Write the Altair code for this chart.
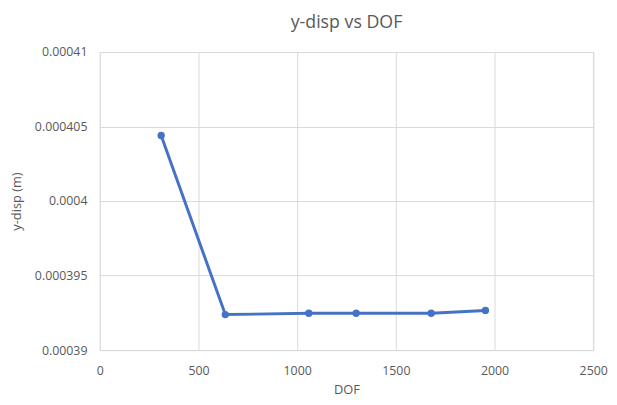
import altair as alt
import pandas as pd

dof = [311, 636, 1059, 1299, 1679, 1954]
ydisp = [0.0004044, 0.00039238, 0.00039247, 0.00039247, 0.00039247, 0.00039266]
x_ticks = [0, 500, 1000, 1500, 2000, 2500]
y_ticks = [0.00039, 0.000395, 0.0004, 0.000405, 0.00041]

df = pd.DataFrame({"DOF": dof, "ydisp": ydisp})

FONT = "Open Sans"
TXT = "#595959"
GRID = "#d9d9d9"
BLUE = "#4472C4"

x = alt.X("DOF:Q", title="DOF",
          scale=alt.Scale(domain=[0, 2500], nice=False, zero=False),
          axis=alt.Axis(values=x_ticks, format="d", grid=True, gridColor=GRID, domainColor=GRID,
                        ticks=False, labelPadding=15, labelFontSize=12.5, labelColor=TXT,
                        labelFont=FONT, titleFont=FONT, titleFontSize=13, titleColor=TXT,
                        titleFontWeight="normal", titleY=40, titleBaseline="middle",
                        labelOverlap=False, labelFlush=False))
y = alt.Y("ydisp:Q", title="y-disp (m)",
          scale=alt.Scale(domain=[0.00039, 0.00041], nice=False, zero=False),
          axis=alt.Axis(values=y_ticks, format="~g", grid=True, gridColor=GRID,
                        domain=False, ticks=False, labelPadding=13, labelFontSize=12.5,
                        labelColor=TXT, labelFont=FONT, titleFont=FONT, titleFontSize=13,
                        titleColor=TXT, titleFontWeight="normal", titleX=-84,
                        titleBaseline="middle", labelOverlap=False))

base = alt.Chart(df).encode(x=x, y=y)
line = base.mark_line(color=BLUE, strokeWidth=3)
pts = base.mark_point(filled=True, color=BLUE, size=55, opacity=1)

chart = (line + pts).properties(
    width=500, height=302,
    title=alt.TitleParams("y-disp vs DOF", font=FONT, fontSize=18, color=TXT,
                          fontWeight="normal", offset=14, anchor="middle"),
    autosize=alt.AutoSizeParams(type="none"),
    padding={"left": 93, "top": 42, "right": 16, "bottom": 50},
).configure_view(stroke=None).configure(background="white")

chart.save("out.html", embed_options={"renderer": "svg", "actions": False})
